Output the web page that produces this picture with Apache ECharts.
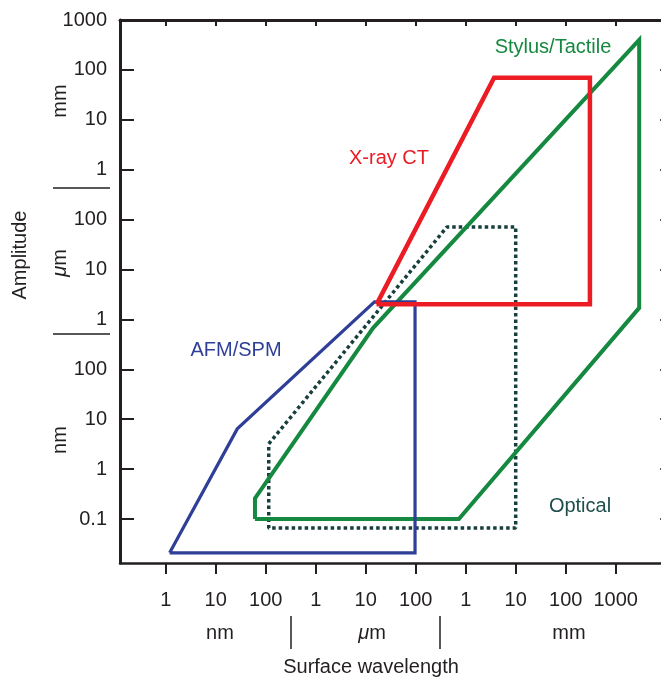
<!DOCTYPE html>
<html>
<head>
<meta charset="utf-8">
<script src="https://cdn.jsdelivr.net/npm/echarts@6/dist/echarts.min.js"></script>
<style>
html,body{margin:0;padding:0;background:#fff;}
#chart{width:661px;height:680px;}
</style>
</head>
<body>
<div id="chart"></div>
<script>
// All lengths in nanometres
const xTickValues = [1, 10, 100, 1e3, 1e4, 1e5, 1e6, 1e7, 1e8, 1e9];
const xTickLabels = ['1', '10', '100', '1', '10', '100', '1', '10', '100', '1000'];
const yTickValues = [0.1, 1, 10, 100, 1e3, 1e4, 1e5, 1e6, 1e7, 1e8, 1e9];
const yTickLabels = ['0.1', '1', '10', '100', '1', '10', '100', '1', '10', '100', '1000'];

const afmPoints = [[1.2, 0.021], [27, 6.4], [15000, 2250], [97000, 2250], [97000, 0.021], [1.2, 0.021]];
const xrayPoints = [[16500, 2000], [3.7e6, 7e7], [3.05e8, 7e7], [3.05e8, 2000], [16500, 2000]];
const stylusPoints = [[61, 0.1], [61, 0.26], [14000, 670], [2.95e9, 4e8], [2.95e9, 1700], [7.3e5, 0.1], [61, 0.1]];
const opticalPoints = [[115, 3.2], [4.2e5, 7.1e4], [1.0e7, 7.1e4], [1.0e7, 0.066], [115, 0.066], [115, 3.2]];

const seriesNames = ['AFM/SPM', 'X-ray CT', 'Stylus/Tactile', 'Optical'];

const FONT = '"Liberation Sans", Arial, Helvetica, sans-serif';
const INK = '#231f20';

function lookup(values, labels, v) {
  const lv = Math.log10(v);
  for (let i = 0; i < values.length; i++) {
    if (Math.abs(Math.log10(values[i]) - lv) < 1e-4) return labels[i];
  }
  return '';
}

const chart = echarts.init(document.getElementById('chart'), null, {renderer: 'canvas'});

const xMin = Math.pow(10, -0.914), xMax = Math.pow(10, 10.046);
const yMin = Math.pow(10, -1.882), yMax = 1e9;

const baseLabel = {fontFamily: FONT, fontSize: 20, color: INK};

const option = {
  animation: false,
  backgroundColor: '#ffffff',
  grid: {left: 120, top: 20, right: -7, bottom: 117, containLabel: false, outerBoundsMode: 'none'},
  xAxis: [
    {
      type: 'log', logBase: 10, min: xMin, max: xMax, position: 'bottom',
      axisLine: {show: true, lineStyle: {color: INK, width: 2.5}},
      axisTick: {show: true, inside: false, length: 11, lineStyle: {color: INK, width: 2}, customValues: xTickValues},
      axisLabel: Object.assign({show: true, margin: 27, customValues: xTickValues,
        formatter: v => lookup(xTickValues, xTickLabels, v)}, baseLabel),
      splitLine: {show: false}, minorTick: {show: false}
    },
    {
      type: 'log', logBase: 10, min: xMin, max: xMax, position: 'top',
      axisLine: {show: true, lineStyle: {color: INK, width: 3}},
      axisTick: {show: true, inside: true, length: 6, lineStyle: {color: INK, width: 2}, customValues: xTickValues},
      axisLabel: {show: false},
      splitLine: {show: false}
    }
  ],
  yAxis: [
    {
      type: 'log', logBase: 10, min: yMin, max: yMax, position: 'left',
      axisLine: {show: true, lineStyle: {color: INK, width: 3}},
      axisTick: {show: true, inside: true, length: 14, lineStyle: {color: INK, width: 2}, customValues: yTickValues},
      axisLabel: Object.assign({show: true, margin: 13, customValues: yTickValues,
        formatter: v => lookup(yTickValues, yTickLabels, v)}, baseLabel),
      splitLine: {show: false}
    },
    {
      type: 'log', logBase: 10, min: yMin, max: yMax, position: 'right',
      axisLine: {show: true, lineStyle: {color: INK, width: 2}},
      axisTick: {show: true, inside: true, length: 8, lineStyle: {color: INK, width: 1.5}, customValues: yTickValues.slice(0, -1)},
      axisLabel: {show: false},
      splitLine: {show: false}
    }
  ],
  series: [
    {
      name: seriesNames[3], type: 'line', data: opticalPoints, showSymbol: false, symbol: 'none', z: 2,
      lineStyle: {color: '#173f3c', width: 3.5, type: [3.5, 3], cap: 'butt'}
    },
    {
      name: seriesNames[2], type: 'line', data: stylusPoints, showSymbol: false, symbol: 'none', z: 3,
      lineStyle: {color: '#14893f', width: 4, join: 'miter'}
    },
    {
      name: seriesNames[0], type: 'line', data: afmPoints, showSymbol: false, symbol: 'none', z: 4,
      lineStyle: {color: '#2f3f98', width: 3.2, join: 'miter'}
    },
    {
      name: seriesNames[1], type: 'line', data: xrayPoints, showSymbol: false, symbol: 'none', z: 5,
      lineStyle: {color: '#ec1c24', width: 4.5, join: 'miter'}
    }
  ],
  graphic: [
    // series labels
    {type: 'text', x: 553, y: 47, style: {text: seriesNames[2], fill: '#14893f', font: '20px ' + FONT, align: 'center', verticalAlign: 'middle'}},
    {type: 'text', x: 389, y: 158, style: {text: seriesNames[1], fill: '#ec1c24', font: '20px ' + FONT, align: 'center', verticalAlign: 'middle'}},
    {type: 'text', x: 236, y: 350, style: {text: seriesNames[0], fill: '#2f3f98', font: '20px ' + FONT, align: 'center', verticalAlign: 'middle'}},
    {type: 'text', x: 580, y: 506, style: {text: seriesNames[3], fill: '#1f4f4c', font: '20px ' + FONT, align: 'center', verticalAlign: 'middle'}},
    // y units
    {type: 'text', x: 60, y: 101, rotation: Math.PI / 2, style: {text: 'mm', fill: INK, font: '20px ' + FONT, align: 'center', verticalAlign: 'middle'}},
    {type: 'text', x: 60, y: 263, rotation: Math.PI / 2, style: {text: '{i|\u03bc}m', fill: INK, font: '20px ' + FONT, align: 'center', verticalAlign: 'middle',
      rich: {i: {fontStyle: 'italic', fontFamily: FONT, fontSize: 20, fill: INK}}}},
    {type: 'text', x: 60, y: 440, rotation: Math.PI / 2, style: {text: 'nm', fill: INK, font: '20px ' + FONT, align: 'center', verticalAlign: 'middle'}},
    {type: 'line', shape: {x1: 53, y1: 188, x2: 110, y2: 188}, style: {stroke: INK, lineWidth: 1.5}},
    {type: 'line', shape: {x1: 53, y1: 334, x2: 110, y2: 334}, style: {stroke: INK, lineWidth: 1.5}},
    {type: 'text', x: 20, y: 255, rotation: Math.PI / 2, style: {text: 'Amplitude', fill: INK, font: '20px ' + FONT, align: 'center', verticalAlign: 'middle'}},
    // x units
    {type: 'text', x: 220, y: 633, style: {text: 'nm', fill: INK, font: '20px ' + FONT, align: 'center', verticalAlign: 'middle'}},
    {type: 'text', x: 372, y: 633, style: {text: '{i|\u03bc}m', fill: INK, font: '20px ' + FONT, align: 'center', verticalAlign: 'middle',
      rich: {i: {fontStyle: 'italic', fontFamily: FONT, fontSize: 20, fill: INK}}}},
    {type: 'text', x: 569, y: 633, style: {text: 'mm', fill: INK, font: '20px ' + FONT, align: 'center', verticalAlign: 'middle'}},
    {type: 'line', shape: {x1: 291, y1: 616, x2: 291, y2: 649}, style: {stroke: INK, lineWidth: 1.5}},
    {type: 'line', shape: {x1: 440, y1: 616, x2: 440, y2: 649}, style: {stroke: INK, lineWidth: 1.5}},
    {type: 'text', x: 371, y: 667, style: {text: 'Surface wavelength', fill: INK, font: '20px ' + FONT, align: 'center', verticalAlign: 'middle'}}
  ]
};

chart.setOption(option);
</script>
</body>
</html>
